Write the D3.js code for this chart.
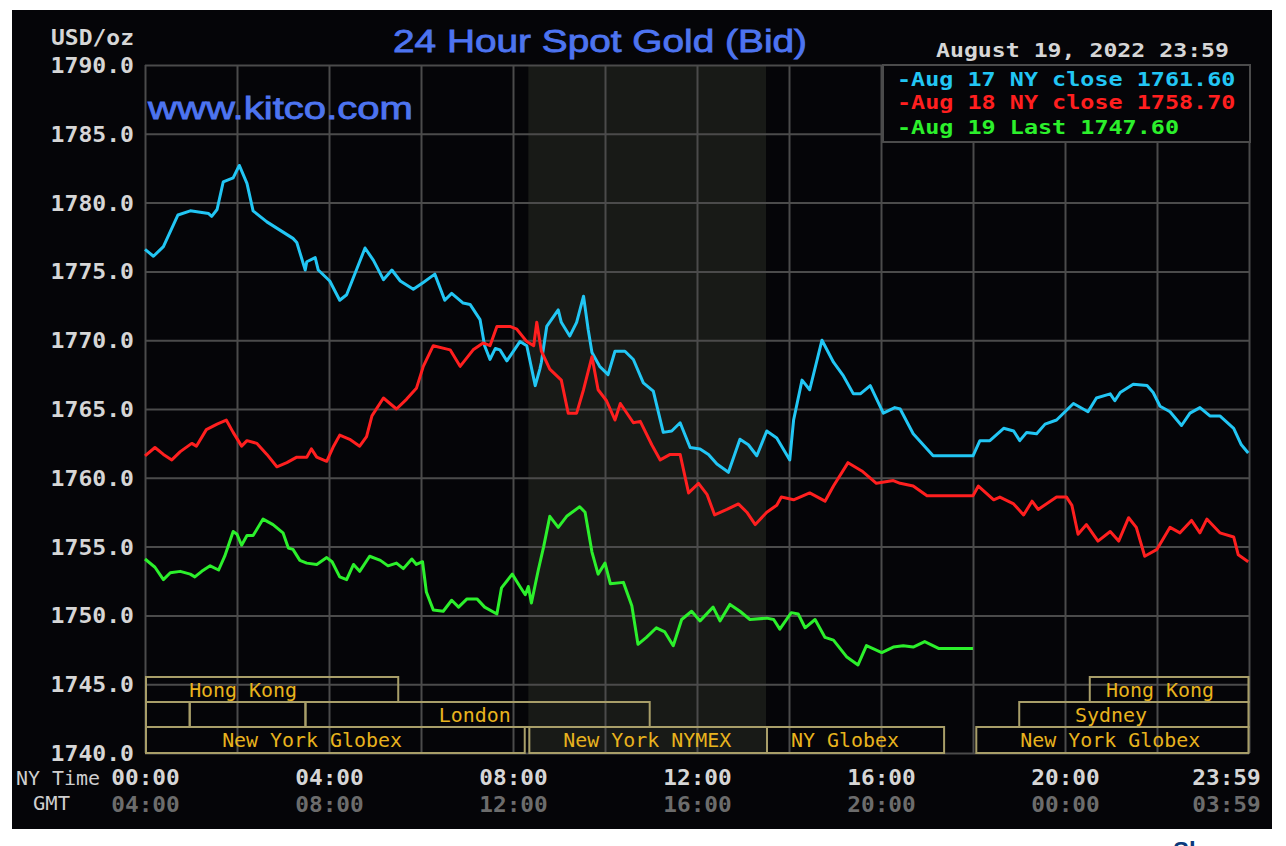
<!DOCTYPE html>
<html><head><meta charset="utf-8">
<script src="https://cdn.jsdelivr.net/npm/d3@7"></script>
<style>html,body{margin:0;padding:0;background:#fff;}svg{display:block;}</style>
</head><body>
<svg id="chart" width="1286" height="846"></svg>
<script>
// ---------------- DATA ----------------
const yTicks = [1740,1745,1750,1755,1760,1765,1770,1775,1780,1785,1790];
const gridMinutes = [0,120,240,360,480,600,720,840,960,1080,1200,1320,1440];
const nyTickMinutes = [0,240,480,720,960,1200,1439];
const nyTickLabels = ["00:00","04:00","08:00","12:00","16:00","20:00","23:59"];
const gmtTickLabels = ["04:00","08:00","12:00","16:00","20:00","00:00","03:59"];
const nymexWindow = [500, 810];

// [minute of NY day, USD/oz]
const aug17 = [[0,1776.6],[11,1776.1],[24,1776.8],[43,1779.1],[59,1779.4],[83,1779.2],[87,1779.0],[94,1779.5],[102,1781.5],[115,1781.8],[123,1782.7],[133,1781.4],[141,1779.4],[159,1778.6],[176,1778.0],[193,1777.4],[198,1777.1],[209,1775.1],[211,1775.7],[222,1776.0],[226,1775.1],[241,1774.3],[254,1772.9],[263,1773.3],[287,1776.7],[298,1775.8],[311,1774.4],[322,1775.1],[333,1774.3],[350,1773.7],[363,1774.2],[378,1774.8],[391,1772.9],[400,1773.4],[415,1772.7],[424,1772.6],[437,1771.5],[443,1769.6],[450,1768.6],[457,1769.4],[463,1769.3],[472,1768.5],[489,1769.9],[498,1769.6],[509,1766.7],[515,1767.9],[517,1768.4],[524,1771.0],[539,1772.2],[543,1771.3],[554,1770.3],[563,1771.3],[572,1773.2],[578,1770.8],[583,1769.1],[593,1768.1],[604,1767.5],[613,1769.2],[626,1769.2],[637,1768.6],[650,1766.9],[663,1766.3],[676,1763.3],[687,1763.4],[698,1764.0],[711,1762.2],[724,1762.1],[735,1761.7],[746,1761.0],[761,1760.4],[776,1762.8],[787,1762.4],[798,1761.6],[811,1763.4],[824,1762.9],[841,1761.3],[846,1764.2],[857,1767.1],[867,1766.4],[883,1770.0],[898,1768.4],[911,1767.4],[924,1766.1],[933,1766.1],[946,1766.7],[963,1764.7],[978,1765.1],[985,1765.0],[1002,1763.2],[1028,1761.6],[1080,1761.6],[1089,1762.7],[1102,1762.7],[1120,1763.6],[1133,1763.4],[1141,1762.7],[1150,1763.3],[1163,1763.2],[1174,1763.9],[1189,1764.2],[1211,1765.4],[1230,1764.8],[1241,1765.8],[1259,1766.1],[1265,1765.6],[1272,1766.2],[1289,1766.8],[1307,1766.7],[1315,1766.2],[1324,1765.2],[1337,1764.8],[1352,1763.8],[1363,1764.7],[1376,1765.1],[1389,1764.5],[1402,1764.5],[1420,1763.6],[1430,1762.4],[1439,1761.8]];

const aug18 = [[0,1761.6],[13,1762.2],[24,1761.7],[35,1761.3],[46,1761.9],[61,1762.5],[67,1762.3],[80,1763.5],[94,1763.9],[106,1764.2],[115,1763.3],[126,1762.3],[133,1762.7],[146,1762.5],[159,1761.7],[172,1760.8],[185,1761.1],[198,1761.5],[211,1761.5],[217,1762.1],[224,1761.5],[237,1761.2],[246,1762.3],[254,1763.1],[267,1762.8],[280,1762.3],[289,1763.0],[296,1764.5],[311,1765.8],[328,1765.0],[341,1765.7],[354,1766.5],[363,1768.1],[376,1769.6],[398,1769.3],[411,1768.1],[428,1769.3],[441,1769.8],[450,1769.6],[459,1771.0],[476,1771.0],[485,1770.8],[498,1769.9],[507,1769.6],[511,1771.3],[517,1769.2],[528,1767.9],[543,1767.1],[552,1764.7],[563,1764.7],[572,1766.4],[583,1768.8],[591,1766.4],[602,1765.6],[613,1764.2],[620,1765.4],[637,1764.0],[646,1764.1],[661,1762.4],[672,1761.3],[685,1761.7],[698,1761.7],[709,1758.9],[722,1759.6],[733,1758.8],[743,1757.3],[759,1757.7],[774,1758.1],[785,1757.5],[796,1756.6],[811,1757.5],[824,1758.0],[830,1758.6],[846,1758.4],[867,1758.9],[887,1758.3],[898,1759.4],[917,1761.1],[935,1760.5],[954,1759.6],[976,1759.8],[985,1759.6],[1002,1759.4],[1020,1758.7],[1080,1758.7],[1087,1759.4],[1107,1758.4],[1115,1758.6],[1133,1758.1],[1146,1757.3],[1157,1758.3],[1165,1757.7],[1189,1758.6],[1202,1758.6],[1209,1758.0],[1217,1755.9],[1228,1756.6],[1243,1755.4],[1259,1756.1],[1270,1755.4],[1283,1757.1],[1293,1756.4],[1304,1754.3],[1320,1754.8],[1337,1756.4],[1350,1756.0],[1365,1756.9],[1376,1756.0],[1385,1757.0],[1402,1756.0],[1420,1755.7],[1426,1754.4],[1439,1753.9]];

const aug19 = [[0,1754.1],[13,1753.5],[24,1752.6],[33,1753.1],[46,1753.2],[59,1753.0],[65,1752.8],[74,1753.2],[85,1753.6],[96,1753.3],[104,1754.3],[115,1756.1],[120,1755.9],[126,1755.1],[133,1755.8],[141,1755.8],[154,1757.0],[167,1756.6],[180,1756.0],[187,1754.9],[193,1754.8],[202,1754.0],[211,1753.8],[224,1753.7],[237,1754.2],[244,1753.9],[254,1752.8],[263,1752.6],[272,1753.7],[280,1753.2],[293,1754.3],[307,1754.0],[317,1753.6],[328,1753.8],[337,1753.4],[348,1754.1],[354,1753.7],[362,1753.9],[367,1751.7],[376,1750.4],[389,1750.3],[400,1751.1],[409,1750.6],[420,1751.2],[433,1751.2],[443,1750.6],[459,1750.1],[465,1752.0],[479,1753.0],[489,1752.1],[496,1751.5],[500,1752.1],[504,1750.9],[513,1753.3],[520,1755.0],[528,1757.2],[539,1756.4],[550,1757.2],[567,1757.9],[574,1757.5],[583,1754.6],[591,1753.0],[600,1753.8],[607,1752.3],[624,1752.4],[635,1750.7],[643,1747.9],[654,1748.4],[667,1749.1],[678,1748.8],[689,1747.8],[700,1749.7],[713,1750.3],[724,1749.6],[741,1750.6],[750,1749.6],[763,1750.8],[776,1750.3],[789,1749.7],[811,1749.8],[820,1749.7],[828,1749.0],[843,1750.2],[852,1750.1],[861,1749.1],[874,1749.7],[887,1748.4],[898,1748.2],[915,1747.0],[930,1746.4],[941,1747.8],[961,1747.3],[976,1747.7],[989,1747.8],[1002,1747.7],[1017,1748.1],[1035,1747.6],[1080,1747.6]];

const seriesNames = ["-Aug 17 NY close 1761.60","-Aug 18 NY close 1758.70","-Aug 19 Last 1747.60"];
const seriesColors = ["#22c6f4","#ff1f1f","#2cf02c"];

// trading sessions: [row, startMin, endMin, label, labelCenterMin]
const sessions = [
  [0,0,329,"Hong Kong",128],
  [0,1231,1438,"Hong Kong",1324],
  [1,0,57,"",0],
  [1,57,208,"",0],
  [1,208,657,"London",430],
  [1,1139,1438,"Sydney",1260],
  [2,0,494,"New York Globex",218],
  [2,500,810,"New York NYMEX",655],
  [2,810,1041,"NY Globex",913],
  [2,1083,1438,"New York Globex",1259]
];

// ---------------- DRAW ----------------
const svg = d3.select('#chart');
const X0=145, X1=1249, Y0=65, Y1=753;
const x = d3.scaleLinear().domain([0,1440]).range([X0,X1]);
const y = d3.scaleLinear().domain([1740,1790]).range([Y1,Y0]);
const MONO = "'DejaVu Sans Mono', monospace";
const SANS = "'Liberation Sans', Arial, sans-serif";

svg.append('rect').attr('x',12).attr('y',10).attr('width',1260).attr('height',819).attr('fill','#050508');

// NYMEX shading
svg.append('rect').attr('x',x(nymexWindow[0])).attr('y',Y0)
  .attr('width',x(nymexWindow[1])-x(nymexWindow[0])).attr('height',Y1-Y0).attr('fill','#181a17');

// grid
svg.append('g').attr('transform',`translate(0,${Y1})`)
  .call(d3.axisBottom(x).tickValues(gridMinutes).tickSize(-(Y1-Y0)).tickFormat(''))
  .call(g=>{g.select('.domain').remove();g.selectAll('line').attr('stroke','#4b4b4b').attr('stroke-width',2);});
svg.append('g').attr('transform',`translate(${X0},0)`)
  .call(d3.axisLeft(y).tickValues(yTicks).tickSize(-(X1-X0)).tickFormat(''))
  .call(g=>{g.select('.domain').remove();g.selectAll('line').attr('stroke','#4b4b4b').attr('stroke-width',2);});

// sessions
const rowTop=[677,702,727], rowH=[25,25,26];
const sg = svg.append('g');
sessions.forEach(s=>{
  const [r,a,b,lab,c]=s;
  sg.append('rect').attr('x',x(a)+1).attr('y',rowTop[r]).attr('width',x(b)-x(a)).attr('height',rowH[r])
    .attr('fill','none').attr('stroke','#a89e69').attr('stroke-width',2);
  if(lab){
    sg.append('text').attr('x',x(c)).attr('y',rowTop[r]+rowH[r]/2).attr('dy','0.36em')
      .attr('text-anchor','middle').attr('font-family',MONO).attr('font-size',20)
      .attr('fill','#e8b31e').attr('textLength',lab.length*12).attr('lengthAdjust','spacingAndGlyphs').text(lab);
  }
});

// lines
const line = d3.line().x(d=>x(d[0])).y(d=>y(d[1]));
[aug17,aug18,aug19].forEach((data,i)=>{
  svg.append('path').datum(data).attr('d',line).attr('fill','none')
    .attr('stroke',seriesColors[i]).attr('stroke-width',3).attr('stroke-linejoin','round');
});

// legend
svg.append('rect').attr('x',883).attr('y',65).attr('width',367).attr('height',77)
  .attr('fill','#050508').attr('stroke','#4b4b4b').attr('stroke-width',2);
seriesNames.forEach((t,i)=>{
  svg.append('text').attr('x',897).attr('y',[79,102,127][i]).attr('dy','0.36em')
    .attr('font-family',MONO).attr('font-weight','bold').attr('font-size',20)
    .attr('fill',seriesColors[i]).attr('textLength',t.length*14.1).attr('lengthAdjust','spacingAndGlyphs').text(t);
});

// y axis labels
svg.append('g').attr('transform',`translate(${X0},0)`)
  .call(d3.axisLeft(y).tickValues(yTicks).tickSize(0).tickPadding(11).tickFormat(d=>d.toFixed(1)))
  .call(g=>{g.select('.domain').remove();
    g.selectAll('text').attr('font-family',MONO).attr('font-weight','bold').attr('font-size',21)
     .attr('fill','#d6d6d6').attr('dy','0.36em').attr('textLength',6*13.9).attr('lengthAdjust','spacingAndGlyphs');});

// x axis labels (NY time and GMT)
function xLabels(labels, yy, color){
  svg.append('g').attr('transform',`translate(0,${yy})`)
    .call(d3.axisBottom(x).tickValues(nyTickMinutes).tickSize(0).tickPadding(0).tickFormat((d,i)=>labels[i]))
    .call(g=>{g.select('.domain').remove();
      g.selectAll('text').attr('y',0).attr('dy','0.36em').attr('font-family',MONO).attr('font-weight','bold')
       .attr('font-size',21).attr('fill',color).attr('textLength',5*13.7).attr('lengthAdjust','spacingAndGlyphs')
       .attr('text-anchor',(d,i)=> i===labels.length-1?'end':'middle')
       .attr('x',(d,i)=> i===labels.length-1?12:0);});
}
xLabels(nyTickLabels,777,'#d6d6d6');
xLabels(gmtTickLabels,804,'#6c6c6c');

svg.append('text').attr('x',16).attr('y',778).attr('dy','0.36em').attr('font-family',MONO).attr('font-size',20)
  .attr('fill','#cfcfcf').attr('textLength',84).attr('lengthAdjust','spacingAndGlyphs').text('NY Time');
svg.append('text').attr('x',33).attr('y',803).attr('dy','0.36em').attr('font-family',MONO).attr('font-size',20)
  .attr('fill','#cfcfcf').attr('textLength',37).attr('lengthAdjust','spacingAndGlyphs').text('GMT');
svg.append('text').attr('x',134).attr('y',37).attr('dy','0.36em').attr('text-anchor','end').attr('font-family',MONO)
  .attr('font-weight','bold').attr('font-size',21).attr('fill','#d6d6d6').attr('textLength',83).attr('lengthAdjust','spacingAndGlyphs').text('USD/oz');
svg.append('text').attr('x',1229).attr('y',50).attr('dy','0.36em').attr('text-anchor','end').attr('font-family',MONO)
  .attr('font-weight','bold').attr('font-size',20).attr('fill','#d6d6d6').attr('textLength',293).attr('lengthAdjust','spacingAndGlyphs').text('August 19, 2022 23:59');

// titles
svg.append('text').attr('x',600).attr('y',52).attr('text-anchor','middle').attr('font-family',SANS)
  .attr('font-size',32).attr('fill','#4d74f0').attr('stroke','#4d74f0').attr('stroke-width',0.8)
  .attr('textLength',414).attr('lengthAdjust','spacingAndGlyphs').text('24 Hour Spot Gold (Bid)');
svg.append('text').attr('x',148).attr('y',119).attr('font-family',SANS)
  .attr('font-size',31).attr('fill','#4d74f0').attr('stroke','#4d74f0').attr('stroke-width',0.8)
  .attr('textLength',265).attr('lengthAdjust','spacingAndGlyphs').text('www.kitco.com');

// page text below the chart, cut off by the bottom edge as in the reference
svg.append('text').attr('x',1173).attr('y',859).attr('font-family',SANS)
  .attr('font-weight','bold').attr('font-size',24).attr('fill','#0c3a7c').text('Share');
</script>
